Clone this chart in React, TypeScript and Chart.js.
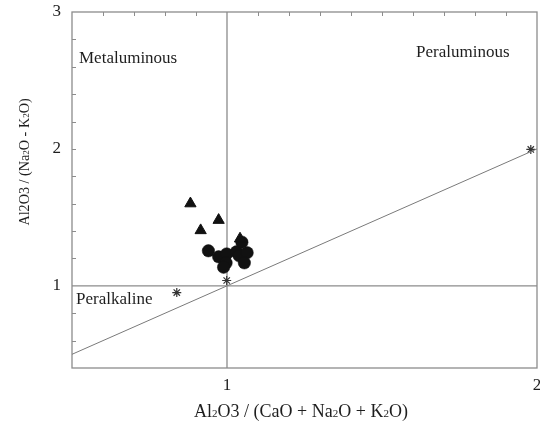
import React, { useEffect, useRef } from "react";
import { Chart, registerables } from "chart.js";

Chart.register(...registerables);

// Shand's index: A/CNK (x) vs A/NK (y)
const triangleX = [0.882, 0.973, 0.915, 1.042];
const triangleY = [1.601, 1.48, 1.405, 1.344];

const circleX = [0.94, 0.973, 0.999, 0.997, 0.989, 1.031, 1.039, 1.048, 1.065, 1.056];
const circleY = [1.256, 1.212, 1.233, 1.167, 1.136, 1.249, 1.22, 1.319, 1.242, 1.168];

const starX = [0.999, 0.838, 1.98];
const starY = [1.039, 0.951, 1.996];

// Peralkaline boundary A/NK = A/CNK
const boundaryX = [0.5, 2];
const boundaryY = [0.5, 2];

// Field dividers
const acnkDivide = 1;
const ankDivide = 1;

const xTickValues = [1, 2];
const yTickValues = [1, 2, 3];
const xMinorTicks = [0.6, 0.7, 0.8, 0.9, 1.1, 1.2, 1.3, 1.4, 1.5, 1.6, 1.7, 1.8, 1.9];
const yMinorTicks = [0.6, 0.8, 1.2, 1.4, 1.6, 1.8, 2, 2.2, 2.4, 2.6, 2.8];

const fieldLabels = ["Metaluminous", "Peraluminous", "Peralkaline"];

const FONT = "'Liberation Serif', 'Times New Roman', serif";
const FRAME = "#8c8c8c";
const INK = "#1e1e1e";

type Seg = { t: string; sub?: boolean };

const xTitle: Seg[] = [
  { t: "Al" }, { t: "2", sub: true }, { t: "O3 / (CaO + Na" }, { t: "2", sub: true },
  { t: "O + K" }, { t: "2", sub: true }, { t: "O)" },
];
const yTitle: Seg[] = [
  { t: "Al2O3 / (Na" }, { t: "2", sub: true }, { t: "O - K" }, { t: "2", sub: true }, { t: "O)" },
];

function drawRich(ctx: CanvasRenderingContext2D, segs: Seg[], cx: number, cy: number, size: number, rot: number) {
  const small = Math.round(size * 0.62);
  ctx.save();
  ctx.translate(cx, cy);
  ctx.rotate(rot);
  ctx.fillStyle = INK;
  ctx.textBaseline = "middle";
  ctx.textAlign = "left";
  let total = 0;
  for (const s of segs) {
    ctx.font = `${s.sub ? small : size}px ${FONT}`;
    total += ctx.measureText(s.t).width;
  }
  let x = -total / 2;
  for (const s of segs) {
    ctx.font = `${s.sub ? small : size}px ${FONT}`;
    ctx.fillText(s.t, x, s.sub ? size * 0.12 : 0);
    x += ctx.measureText(s.t).width;
  }
  ctx.restore();
}

const framePlugin = {
  id: "shandFrame",
  beforeDatasetsDraw(chart: any) {
    const { ctx, chartArea: a, scales } = chart;
    const xs = scales.x;
    const ys = scales.y;
    ctx.save();
    ctx.strokeStyle = FRAME;
    ctx.lineWidth = 1.3;
    // divider lines
    const px = xs.getPixelForValue(acnkDivide);
    const py = ys.getPixelForValue(ankDivide);
    ctx.beginPath();
    ctx.moveTo(px, a.top);
    ctx.lineTo(px, a.bottom);
    ctx.moveTo(a.left, py);
    ctx.lineTo(a.right, py);
    ctx.stroke();
    // frame
    ctx.strokeRect(a.left, a.top, a.right - a.left, a.bottom - a.top);
    // inward ticks
    ctx.lineWidth = 1;
    ctx.beginPath();
    for (const v of xMinorTicks) {
      const p = Math.round(xs.getPixelForValue(v)) + 0.5;
      ctx.moveTo(p, a.top);
      ctx.lineTo(p, a.top + 4);
    }
    for (const v of yMinorTicks) {
      const p = Math.round(ys.getPixelForValue(v)) + 0.5;
      ctx.moveTo(a.left, p);
      ctx.lineTo(a.left + 4, p);
    }
    ctx.stroke();
    ctx.restore();
  },
  afterDraw(chart: any) {
    const { ctx } = chart;
    ctx.save();
    ctx.fillStyle = INK;
    ctx.font = `17px ${FONT}`;
    ctx.textBaseline = "middle";
    ctx.textAlign = "left";
    ctx.fillText(fieldLabels[0], 79, 59);
    ctx.fillText(fieldLabels[1], 416, 53);
    ctx.fillText(fieldLabels[2], 76, 300);
    ctx.restore();
    drawRich(ctx, xTitle, 301, 412, 18, 0);
    drawRich(ctx, yTitle, 25, 162, 14.2, -Math.PI / 2);
  },
};

const pts = (xs: number[], ys: number[]) => xs.map((x, i) => ({ x, y: ys[i] }));

export default function App() {
  const ref = useRef<HTMLCanvasElement | null>(null);

  useEffect(() => {
    if (!ref.current) return;
    const chart = new Chart(ref.current, {
      type: "scatter",
      data: {
        datasets: [
          {
            type: "line",
            data: pts(boundaryX, boundaryY),
            borderColor: "#7a7a7a",
            borderWidth: 1,
            pointRadius: 0,
            fill: false,
          },
          {
            data: pts(triangleX, triangleY),
            pointStyle: "triangle",
            pointRadius: 6.5,
            backgroundColor: "#111",
            borderColor: "#111",
            borderWidth: 1,
          },
          {
            data: pts(circleX, circleY),
            pointStyle: "circle",
            pointRadius: 6.2,
            backgroundColor: "#111",
            borderColor: "#111",
            borderWidth: 0.5,
          },
          {
            data: pts(starX, starY),
            pointStyle: "star",
            pointRadius: 4.5,
            backgroundColor: "#333",
            borderColor: "#333",
            borderWidth: 1.2,
          },
        ] as any,
      },
      options: {
        animation: false,
        responsive: false,
        events: [],
        layout: { autoPadding: false, padding: { top: 12, right: 3, left: 0, bottom: 0 } },
        plugins: { legend: { display: false }, tooltip: { enabled: false } },
        scales: {
          x: {
            type: "linear",
            min: 0.5,
            max: 2,
            grid: { display: false, drawTicks: false },
            border: { display: false },
            ticks: { font: { family: FONT, size: 17 }, color: INK, padding: 7 },
            afterBuildTicks: (s: any) => {
              s.ticks = xTickValues.map((value) => ({ value }));
            },
            afterFit: (s: any) => {
              s.height = 53;
              s.paddingLeft = 0;
              s.paddingRight = 0;
            },
          },
          y: {
            type: "linear",
            min: 0.4,
            max: 3,
            grid: { display: false, drawTicks: false },
            border: { display: false },
            ticks: { font: { family: FONT, size: 17 }, color: INK, padding: 11 },
            afterBuildTicks: (s: any) => {
              s.ticks = yTickValues.map((value) => ({ value }));
            },
            afterFit: (s: any) => {
              s.width = 72;
              s.paddingTop = 0;
              s.paddingBottom = 0;
            },
          },
        },
      } as any,
      plugins: [framePlugin],
    });
    return () => chart.destroy();
  }, []);

  return (
    <div style={{ position: "fixed", left: 0, top: 0, width: 540, height: 421, background: "#fff" }}>
      <canvas ref={ref} width={540} height={421} style={{ display: "block" }} />
    </div>
  );
}
